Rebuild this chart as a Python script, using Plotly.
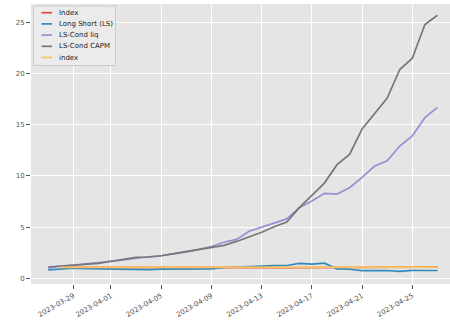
import pandas as pd
import plotly.graph_objects as go

dates = pd.date_range("2023-03-27", "2023-04-27", freq="D")

index_red = [None, 1.06, 1.06, 1.05, 1.06, 1.06, 1.06, 1.06, 1.06, 1.07, 1.06, 1.06, 1.06,
             1.09, 1.10, 1.11, 1.11, 1.11, 1.04, 1.03, 1.03, 1.03, 1.04, 1.05, 1.05,
             1.04, 1.04, 1.05, 1.06, 1.07, 1.09, 1.12]
long_short = [0.82, 0.90, 0.98, 0.95, 0.92, 0.90, 0.84, 0.81, 0.84, 0.90, 0.90, 0.90, 0.90,
              0.92, 1.05, 1.10, 1.18, 1.23, 1.23, 1.25, 1.45, 1.38, 1.48, 0.92, 0.88,
              0.74, 0.78, 0.76, 0.68, 0.77, 0.76, 0.76]
ls_cond_liq = [1.00, 1.20, 1.28, 1.38, 1.48, 1.65, 1.80, 1.97, 2.10, 2.20, 2.38, 2.58, 2.82,
               3.10, 3.52, 3.80, 4.60, 4.98, 5.37, 5.80, 6.90, 7.55, 8.30, 8.23, 8.85,
               9.86, 10.97, 11.48, 12.92, 13.90, 15.70, 16.70]
ls_cond_capm = [1.10, 1.18, 1.23, 1.35, 1.46, 1.66, 1.85, 2.05, 2.08, 2.20, 2.40, 2.60, 2.85,
                3.05, 3.22, 3.60, 4.05, 4.50, 5.04, 5.50, 6.90, 8.10, 9.30, 11.10, 12.10,
                14.60, 16.10, 17.60, 20.40, 21.50, 24.80, 25.70]
index_orange = [None, 1.07, 1.07, 1.06, 1.07, 1.07, 1.07, 1.07, 1.07, 1.07, 1.07, 1.07, 1.07,
                1.06, 1.06, 1.07, 1.07, 1.07, 1.07, 1.07, 1.07, 1.07, 1.07, 1.06, 1.05,
                1.04, 1.04, 1.05, 1.05, 1.06, 1.07, 1.08]

series = [
    ("Index", index_red, "#E24A33"),
    ("Long Short (LS)", long_short, "#348ABD"),
    ("LS-Cond liq", ls_cond_liq, "#988ED5"),
    ("LS-Cond CAPM", ls_cond_capm, "#777777"),
    ("index", index_orange, "#FBC15E"),
]

tick_dates = ["2023-03-29", "2023-04-01", "2023-04-05", "2023-04-09",
              "2023-04-13", "2023-04-17", "2023-04-21", "2023-04-25"]
y_ticks = [0, 5, 10, 15, 20, 25]

W, H = 450, 320
ML, MR, MT, MB = 31, 0, 4, 36
PW, PH = W - ML - MR, H - MT - MB


def px(x):
    return (x - ML) / PW


def py(y):
    return 1 - (y - MT) / PH


fig = go.Figure()
for name, vals, color in series:
    fig.add_trace(go.Scatter(x=dates, y=vals, name=name, mode="lines",
                             line=dict(color=color, width=1.7), showlegend=False))

# compact matplotlib-style legend box
shapes = [dict(type="rect", xref="paper", yref="paper",
               x0=px(33.5), x1=px(115.5), y0=py(65.5), y1=py(6),
               fillcolor="#EBEBEB", line=dict(color="#CCCCCC", width=1), layer="above")]
annotations = []
for i, (name, vals, color) in enumerate(series):
    yc = 12.7 + i * 11.2
    shapes.append(dict(type="line", xref="paper", yref="paper",
                       x0=px(41.5), x1=px(52), y0=py(yc), y1=py(yc),
                       line=dict(color=color, width=1.7), layer="above"))
    annotations.append(dict(xref="paper", yref="paper", x=px(56.5), y=py(yc),
                            text=name, showarrow=False, xanchor="left", yanchor="middle",
                            font=dict(size=7, color="#222222", family="DejaVu Sans")))

fig.update_layout(
    width=W, height=H,
    margin=dict(l=ML, r=MR, t=MT, b=MB),
    paper_bgcolor="white", plot_bgcolor="#E5E5E5",
    font=dict(family="DejaVu Sans", size=7, color="#555555"),
    showlegend=False,
    shapes=shapes, annotations=annotations,
)
fig.update_xaxes(
    range=["2023-03-25 15:07", "2023-04-28 00:00"],
    tickvals=tick_dates, tickformat="%Y-%m-%d", tickangle=-30,
    showgrid=True, gridcolor="white", gridwidth=1,
    ticks="outside", ticklen=4, tickcolor="#555555", zeroline=False,
    showline=False,
)
fig.update_yaxes(
    range=[-0.56, 26.8], tickvals=y_ticks,
    showgrid=True, gridcolor="white", gridwidth=1,
    ticks="outside", ticklen=4, tickcolor="#555555", zeroline=False,
    showline=False,
)
fig.write_html("out.html")
